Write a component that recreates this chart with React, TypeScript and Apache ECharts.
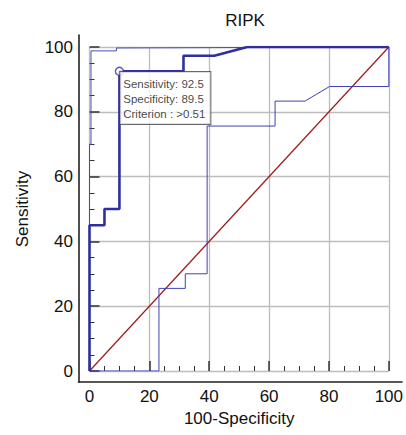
import React, { useEffect, useRef } from "react";
import * as echarts from "echarts";

const FONT = "'Liberation Sans', Arial, sans-serif";

// ROC curve (100-Specificity, Sensitivity)
const rocCurve: [number, number][] = [
  [0, 0], [0, 45], [5, 45], [5, 50], [10, 50], [10, 92.5], [31.4, 92.5],
  [31.4, 97.3], [41.7, 97.3], [52.7, 100], [100, 100],
];
// upper confidence bound
const upperBound: [number, number][] = [
  [0, 0], [0, 70], [0.5, 70], [0.5, 98.8], [9, 98.8], [9, 99.7], [100, 100],
];
// lower confidence bound
const lowerBound: [number, number][] = [
  [0, 0], [23.2, 0], [23.2, 25.5], [32, 25.5], [32, 30], [39.3, 30],
  [39.3, 75.6], [62, 75.6], [62, 83.3], [72, 83.3], [80.2, 87.8],
  [100, 87.8], [100, 100],
];
// reference diagonal
const diagonal: [number, number][] = [[0, 0], [100, 100]];
// optimal criterion point
const criterionPoint: [number, number] = [10, 92.5];
const criterionLines = ["Sensitivity: 92.5", "Specificity: 89.5", "Criterion : >0.51"];

export default function App() {
  const ref = useRef<HTMLDivElement>(null);
  useEffect(() => {
    if (!ref.current) return;
    const chart = echarts.init(ref.current, undefined, { renderer: "svg" });
    const axisText = { color: "#111", fontSize: 17, fontFamily: FONT };
    chart.setOption({
      animation: false,
      backgroundColor: "#fff",
      title: {
        text: "RIPK",
        left: 240,
        textAlign: "center",
        top: 7,
        textStyle: { color: "#111", fontSize: 17, fontWeight: "normal", fontFamily: FONT },
      },
      grid: [
        { left: 89.5, right: 15.5, top: 47, bottom: 64, containLabel: false },
        { left: 78.5, right: 4, top: 35, bottom: 53, containLabel: false },
      ],
      xAxis: [
        {
          type: "value",
          gridIndex: 0,
          min: 0,
          max: 100,
          interval: 20,
          offset: 11,
          name: "100-Specificity",
          nameLocation: "middle",
          nameGap: 26,
          nameTextStyle: axisText,
          axisLine: { show: false },
          axisTick: { show: true, inside: true, length: 10, lineStyle: { color: "#333", width: 1.5 } },
          minorTick: { show: true, splitNumber: 4, length: 5, lineStyle: { color: "#333", width: 1 } },
          axisLabel: { ...axisText, margin: 6 },
          splitLine: { show: true, lineStyle: { color: "#bdbdbd", width: 1.3 } },
        },
        {
          type: "value",
          gridIndex: 1,
          min: 0,
          max: 1,
          axisLine: { show: true, lineStyle: { color: "#222", width: 1.6 } },
          axisTick: { show: false },
          axisLabel: { show: false },
          splitLine: { show: false },
        },
      ],
      yAxis: [
        {
          type: "value",
          gridIndex: 0,
          min: 0,
          max: 100,
          interval: 20,
          offset: 10.5,
          name: "Sensitivity",
          nameLocation: "middle",
          nameGap: 48,
          nameTextStyle: axisText,
          axisLine: { show: false },
          axisTick: { show: true, inside: true, length: 10, lineStyle: { color: "#333", width: 1.5 } },
          minorTick: { show: true, splitNumber: 4, length: 5, lineStyle: { color: "#333", width: 1 } },
          axisLabel: { ...axisText, margin: 6 },
          splitLine: { show: true, lineStyle: { color: "#bdbdbd", width: 1.3 } },
        },
        {
          type: "value",
          gridIndex: 1,
          min: 0,
          max: 1,
          axisLine: { show: true, lineStyle: { color: "#222", width: 1.6 } },
          axisTick: { show: false },
          axisLabel: { show: false },
          splitLine: { show: false },
        },
      ],
      series: [
        {
          type: "line",
          data: diagonal,
          symbol: "none",
          lineStyle: { color: "#a01818", width: 1.2 },
          z: 2,
        },
        {
          type: "line",
          data: upperBound,
          symbol: "none",
          lineStyle: { color: "#4a4ab8", width: 1 },
          z: 3,
        },
        {
          type: "line",
          data: lowerBound,
          symbol: "none",
          lineStyle: { color: "#4040b0", width: 1 },
          z: 3,
        },
        {
          type: "line",
          data: rocCurve,
          symbol: "none",
          lineStyle: { color: "#2f2f9e", width: 2.6 },
          z: 4,
        },
        {
          type: "scatter",
          data: [criterionPoint],
          symbol: "circle",
          symbolSize: 8,
          itemStyle: { color: "#fff", borderColor: "#2f2f9e", borderWidth: 1.4 },
          z: 5,
          label: {
            show: true,
            position: [5.5, 5.5],
            align: "left",
            verticalAlign: "top",
            formatter: criterionLines.join("\n"),
            fontSize: 11.5,
            lineHeight: 15,
            fontFamily: FONT,
            color: "#111",
            backgroundColor: "#fff",
            borderColor: "#444",
            borderWidth: 1,
            padding: [4, 5, 3, 3],
          },
        },
      ],
    });
    return () => chart.dispose();
  }, []);
  return (
    <div
      ref={ref}
      style={{ position: "fixed", left: 0, top: 0, width: 406, height: 435 }}
    />
  );
}
